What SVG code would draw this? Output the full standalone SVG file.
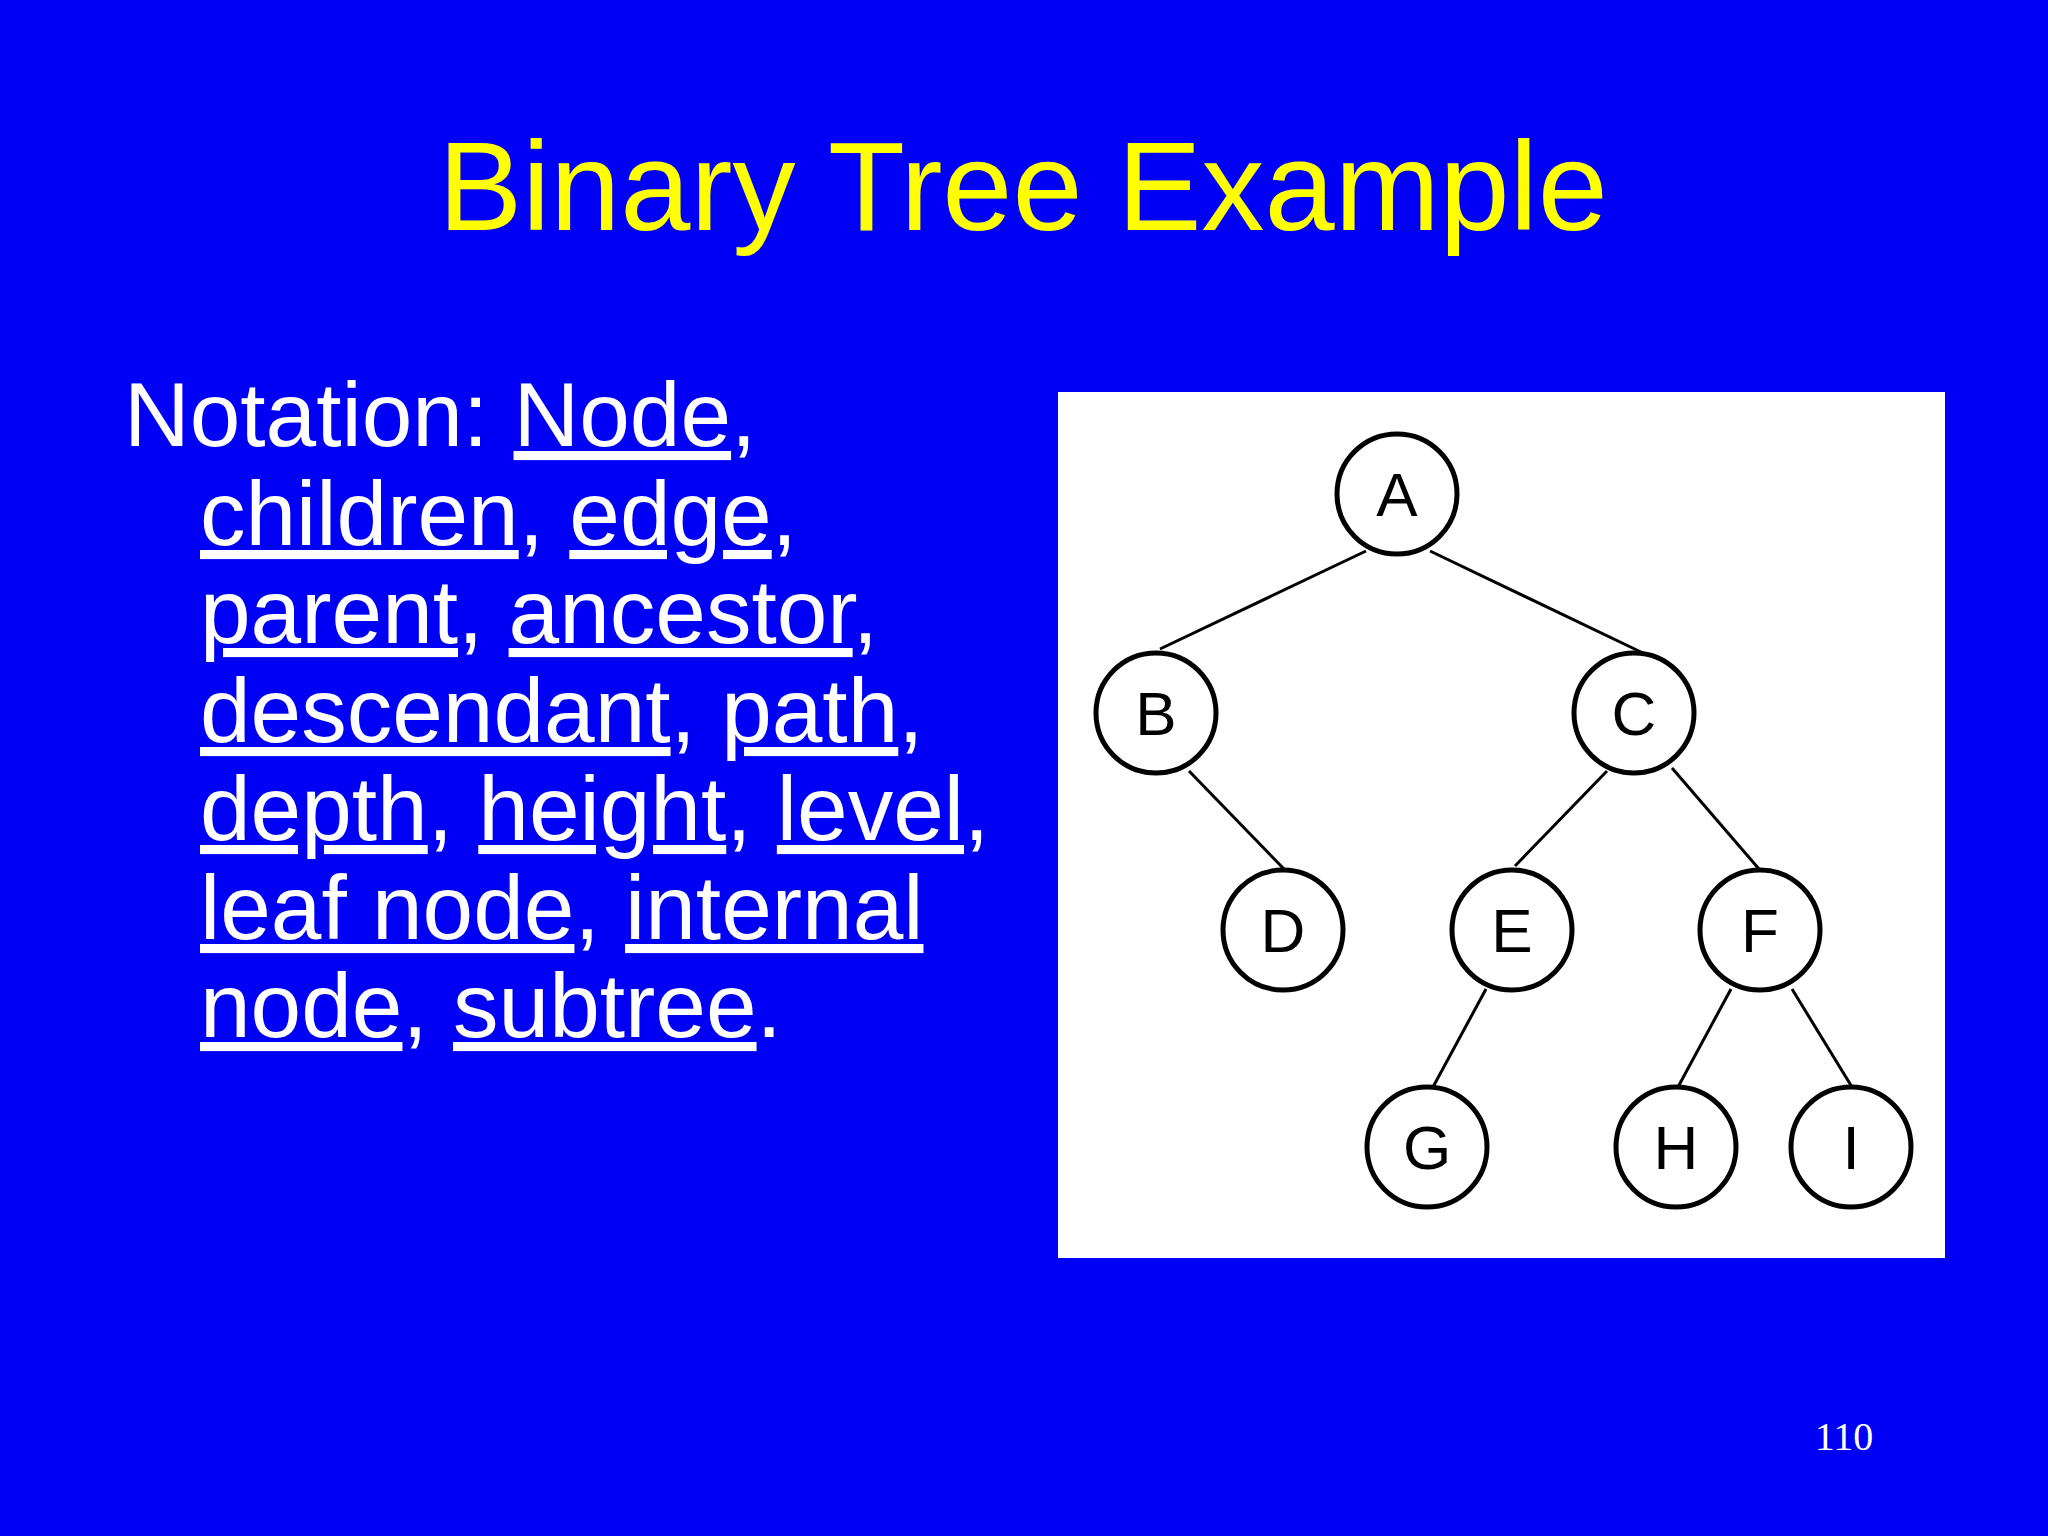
<svg xmlns="http://www.w3.org/2000/svg" width="2048" height="1536" viewBox="0 0 2048 1536">
<style>
.t{font-family:"Liberation Sans",Arial,sans-serif;fill:#fff;font-size:91px}
.u{text-decoration:underline}
.n circle{fill:#fff;stroke:#000;stroke-width:5}
.n text{font-family:"Liberation Sans",Arial,sans-serif;font-size:62px;text-anchor:middle;fill:#000}
#edges line{stroke:#000;stroke-width:3}
</style>
<rect width="2048" height="1536" fill="#0000f5"/>
<text x="1023" y="230" font-family="Liberation Sans,Arial,sans-serif" font-size="126" fill="#ffff00" text-anchor="middle">Binary Tree Example</text>
<text class="t" x="124" y="446">Notation: <tspan class="u">Node</tspan>,</text>
<text class="t" x="200" y="545"><tspan class="u">children</tspan>, <tspan class="u">edge</tspan>,</text>
<text class="t" x="200" y="643"><tspan class="u">parent</tspan>, <tspan class="u">ancestor</tspan>,</text>
<text class="t" x="200" y="742"><tspan class="u">descendant</tspan>, <tspan class="u">path</tspan>,</text>
<text class="t" x="200" y="840"><tspan class="u">depth</tspan>, <tspan class="u">height</tspan>, <tspan class="u">level</tspan>,</text>
<text class="t" x="200" y="939"><tspan class="u">leaf node</tspan>, <tspan class="u">internal</tspan></text>
<text class="t" x="200" y="1037"><tspan class="u">node</tspan>, <tspan class="u">subtree</tspan>.</text>
<rect x="1058" y="392" width="887" height="866" fill="#fff"/>
<g id="edges">
<line x1="1366" y1="551" x2="1160" y2="649"/>
<line x1="1430" y1="551" x2="1643" y2="653"/>
<line x1="1189" y1="771" x2="1284" y2="869"/>
<line x1="1607" y1="771" x2="1515" y2="866"/>
<line x1="1672" y1="768" x2="1759" y2="869"/>
<line x1="1486" y1="989" x2="1433" y2="1087"/>
<line x1="1731" y1="989" x2="1678" y2="1087"/>
<line x1="1792" y1="989" x2="1852" y2="1087"/>
</g>
<g id="A" class="n"><circle cx="1397" cy="494" r="60"/><text x="1397" y="516">A</text></g>
<g id="B" class="n"><circle cx="1156" cy="713" r="60"/><text x="1156" y="735">B</text></g>
<g id="C" class="n"><circle cx="1634" cy="713" r="60"/><text x="1634" y="735">C</text></g>
<g id="D" class="n"><circle cx="1283" cy="930" r="60"/><text x="1283" y="952">D</text></g>
<g id="E" class="n"><circle cx="1512" cy="930" r="60"/><text x="1512" y="952">E</text></g>
<g id="F" class="n"><circle cx="1760" cy="930" r="60"/><text x="1760" y="952">F</text></g>
<g id="G" class="n"><circle cx="1427" cy="1147" r="60"/><text x="1427" y="1169">G</text></g>
<g id="H" class="n"><circle cx="1676" cy="1147" r="60"/><text x="1676" y="1169">H</text></g>
<g id="I" class="n"><circle cx="1851" cy="1147" r="60"/><text x="1851" y="1169">I</text></g>
<text x="1844" y="1450" font-family="Liberation Serif,serif" font-size="40" fill="#fff" text-anchor="middle">110</text>
</svg>
